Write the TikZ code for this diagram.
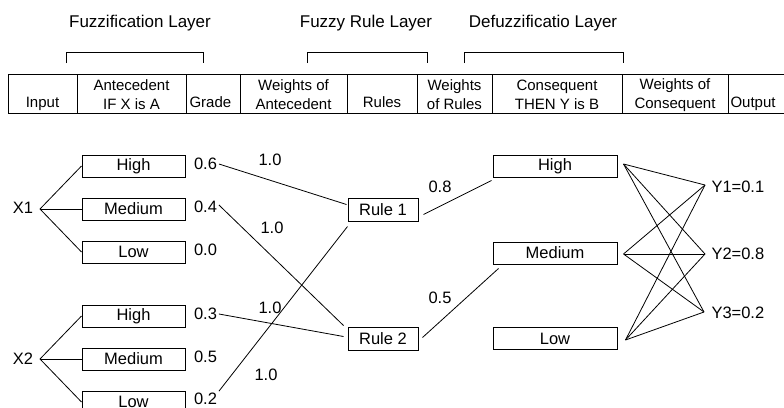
\documentclass[tikz,border=0pt]{standalone}
\usepackage{fontspec}
\setmainfont{Liberation Sans}
\usetikzlibrary{calc}
\newcommand\mylab{\fontsize{16.5}{19}\selectfont}
\newcommand\mytab{\fontsize{15}{19}\selectfont}
\newcommand\myttl{\fontsize{17}{20}\selectfont}
\begin{document}
\begin{tikzpicture}[x=1pt,y=-1pt,line width=1pt,
  ttl/.style={font=\myttl, inner sep=0pt},
  cell/.style={font=\mytab, inner sep=0pt, text height=11pt, text depth=3pt},
  cell2/.style={font=\mytab, inner sep=0pt, align=center},
  lab/.style={font=\mylab, inner sep=1.5pt},
  box/.style={draw, minimum width=103pt, minimum height=22pt, inner sep=0pt, font=\mylab},
  rbox/.style={draw, minimum width=70pt, minimum height=23pt, inner sep=0pt, font=\mylab},
  cbox/.style={draw, minimum width=124pt, minimum height=22pt, inner sep=0pt, font=\mylab},
  conn/.style={line width=0.8pt}]
\useasboundingbox (0,0) rectangle (784,407);
\clip (0,0) rectangle (784,407);

% layer titles
\node[ttl] (t1) at (140,23) {Fuzzification Layer};
\node[ttl] (t2) at (366,23) {Fuzzy Rule Layer};
\node[ttl] (t3) at (543,23) {Defuzzificatio Layer};
% brackets
\draw (66,63) -- (66,52) -- (203,52) -- (203,63);
\draw (307,63) -- (307,52) -- (427,52) -- (427,63);
\draw (464,63) -- (464,52) -- (623,52) -- (623,63);

% header table
\draw (8,113) -- (8,74) -- (784,74);
\draw (8,113) -- (784,113);
\foreach \x in {77,186,240,347,417,492,622,728} \draw (\x,74) -- (\x,113);
\node[cell] (c1) at (42.5,103) {Input};
\node[cell2] (c2) at (131.5,95) {Antecedent\\IF X is A};
\node[cell,anchor=west] (c3) at (189,103) {Grade};
\node[cell2] (c4) at (293.5,95) {Weights of\\Antecedent};
\node[cell] (c5) at (382,103) {Rules};
\node[cell2] (c6) at (454.5,95) {Weights\\of Rules};
\node[cell2] (c7) at (557,95) {Consequent\\THEN Y is B};
\node[cell2] (c8) at (675,95) {Weights of\\Consequent};
\node[cell,anchor=west] (c9) at (730,103) {Output};

% inputs
\node[lab,anchor=east] (x1) at (35,208) {X1};
\node[lab,anchor=east] (x2) at (35,359) {X2};
\coordinate (f1) at (40,209);
\coordinate (f2) at (40,359);

% antecedent boxes
\node[box] (a1) at (133.5,166) {High};
\node[box] (a2) at (133.5,209) {Medium};
\node[box] (a3) at (133.5,252) {Low};
\node[box] (b1) at (133.5,316) {High};
\node[box] (b2) at (133.5,359) {Medium};
\node[box] (b3) at (133.5,402) {Low};
\foreach \n in {a1,a2,a3} \draw[conn] (f1) -- (\n.west);
\foreach \n in {b1,b2,b3} \draw[conn] (f2) -- (\n.west);

% grades
\node[lab,anchor=west] (g1) at (192,164) {0.6};
\node[lab,anchor=west] (g2) at (192,207) {0.4};
\node[lab,anchor=west] (g3) at (192,250) {0.0};
\node[lab,anchor=west] (g4) at (192,314) {0.3};
\node[lab,anchor=west] (g5) at (192,357) {0.5};
\node[lab,anchor=west] (g6) at (192,399) {0.2};

% rules
\node[rbox] (r1) at (383,209.5) {Rule 1};
\node[rbox] (r2) at (383,338.5) {Rule 2};

\draw[conn] (g1.east) -- ($(r1.west)+(-1,-5)$);
\draw[conn] ($(g2.east)+(0,-2)$) -- ($(r2.north west)+(-4,-1)$);
\draw[conn] (g4.east) -- ($(r2.west)+(-4,-2)$);
\draw[conn] (g6.north east) -- ($(r1.south west)+(0,5)$);

% weights of antecedents
\node[lab] (w1) at (270,160) {1.0};
\node[lab] (w2) at (272,228) {1.0};
\node[lab] (w3) at (270,308) {1.0};
\node[lab] (w4) at (266,375) {1.0};

% consequents
\node[cbox] (ch) at (555,166) {High};
\node[cbox] (cm) at (555,253) {Medium};
\node[cbox] (cl) at (555,338.5) {Low};

\draw[conn] ($(r1.east)+(5,5)$) -- ($(ch.south west)+(-1,3)$);
\draw[conn] ($(r2.east)+(4,-1)$) -- ($(cm.south west)+(6,4)$);
\node[lab] (w5) at (440,187) {0.8};
\node[lab] (w6) at (440,298) {0.5};

% outputs
\node[lab,anchor=west,inner sep=0pt] (y1) at (711,187) {Y1=0.1};
\node[lab,anchor=west,inner sep=0pt] (y2) at (711,254) {Y2=0.8};
\node[lab,anchor=west,inner sep=0pt] (y3) at (711,313) {Y3=0.2};
\coordinate (oh) at ($(ch.east)+(6,-2)$);
\coordinate (om) at ($(cm.east)+(6,1)$);
\coordinate (ol) at ($(cl.east)+(8,1.5)$);
\coordinate (p1) at ($(y1.west)+(-6,-2)$);
\coordinate (p2) at ($(y2.west)+(-6,0)$);
\coordinate (p3) at ($(y3.west)+(-7,-1)$);
\foreach \a in {oh,om,ol} \foreach \b in {p1,p2,p3} \draw[conn] (\a) -- (\b);
\end{tikzpicture}
\end{document}
